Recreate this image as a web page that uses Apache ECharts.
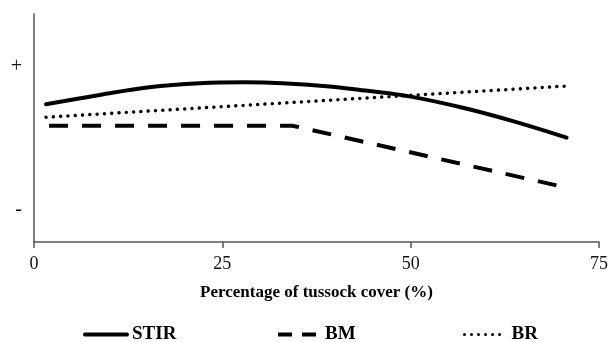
<!DOCTYPE html>
<html><head><meta charset="utf-8">
<script src="https://cdn.jsdelivr.net/npm/echarts@6/dist/echarts.min.js"></script>
<style>html,body{margin:0;padding:0;background:#fff}#c{width:611px;height:342px}</style>
</head><body><div id="c"></div>
<script>
const xTicks = [0, 25, 50, 75];
const yTickValues = [-1, 1];
const yTickLabels = ['-', '+'];
const stirX = [1.6, 8.7, 15.3, 22, 28, 33, 39.6, 44, 50, 57.2, 63.8, 70.7];
const stirY = [0.478, 0.608, 0.716, 0.772, 0.785, 0.772, 0.725, 0.67, 0.585, 0.422, 0.235, 0.011];
const bmX = [2, 34.3, 70.7];
const bmY = [0.179, 0.179, -0.688];
const brX = [1.6, 70.7];
const brY = [0.297, 0.734];
const seriesNames = ['STIR', 'BM', 'BR'];

const zip = (xs, ys) => xs.map((x, i) => [x, ys[i]]);
const serif = '"Liberation Serif", "DejaVu Serif", serif';
const chart = echarts.init(document.getElementById('c'));
const legendText = { fontFamily: serif, fontWeight: 'bold', fontSize: 19, color: '#000' };
const mkLegend = (name, left, lineStyle) => ({
  data: [name], left: left, top: 320, itemWidth: 42, itemHeight: 12, itemGap: 8,
  textStyle: legendText, itemStyle: { opacity: 0 }, lineStyle: lineStyle
});
chart.setOption({
  animation: false,
  grid: { left: 34, right: 9, top: 14, bottom: 100 },
  legend: [
    mkLegend('STIR', 78, { width: 4, type: 'solid' }),
    mkLegend('BM', 271, { width: 4, type: [14, 10] }),
    mkLegend('BR', 458, { width: 3, type: [0.01, 7], cap: 'round' })
  ],
  xAxis: {
    type: 'value', min: 0, max: 75, interval: 25,
    name: 'Percentage of tussock cover (%)', nameLocation: 'middle', nameGap: 42,
    nameTextStyle: { fontFamily: serif, fontWeight: 'bold', fontSize: 17, color: '#000' },
    axisLine: { show: true, onZero: false, lineStyle: { color: '#555', width: 1.5 } },
    axisTick: { show: true, length: 6, lineStyle: { color: '#555', width: 1.5 } },
    axisLabel: { fontFamily: serif, fontSize: 18, color: '#111', margin: 13,
      formatter: v => xTicks.includes(v) ? String(v) : '' },
    splitLine: { show: false }
  },
  yAxis: {
    type: 'value', min: -1.448, max: 1.741,
    axisLine: { show: true, onZero: false, lineStyle: { color: '#555', width: 1.5 } },
    axisTick: { show: false },
    axisLabel: { customValues: yTickValues, fontFamily: serif, fontSize: 20, color: '#111', margin: 12,
      formatter: v => yTickLabels[yTickValues.indexOf(v)] ?? '' },
    splitLine: { show: false }
  },
  series: [
    { name: seriesNames[0], type: 'line', data: zip(stirX, stirY), smooth: 0.4, symbol: 'none',
      lineStyle: { color: '#000', width: 4, cap: 'round' }, itemStyle: { color: '#000' } },
    { name: seriesNames[1], type: 'line', data: zip(bmX, bmY), symbol: 'none',
      lineStyle: { color: '#000', width: 4, type: [19, 14] }, itemStyle: { color: '#000' } },
    { name: seriesNames[2], type: 'line', data: zip(brX, brY), symbol: 'none',
      lineStyle: { color: '#000', width: 3.5, type: [0.01, 7.3], cap: 'round' }, itemStyle: { color: '#000' } }
  ]
});
</script></body></html>
